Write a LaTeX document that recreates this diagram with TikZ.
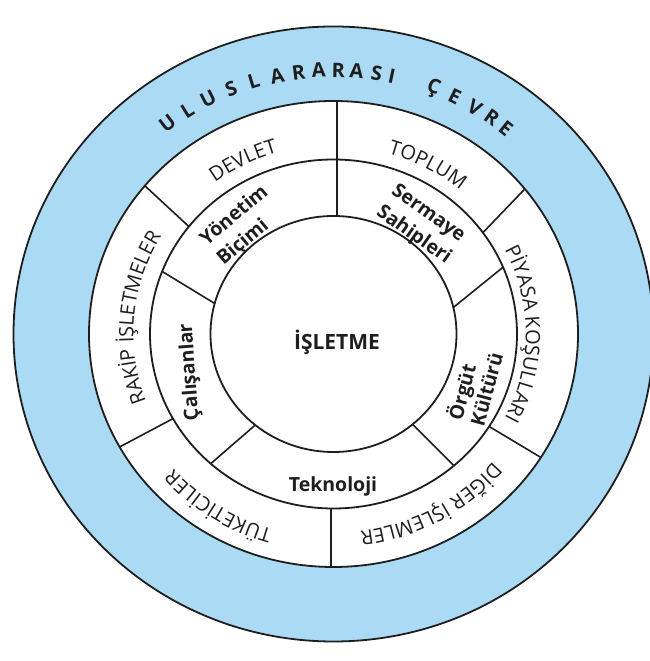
\documentclass[tikz,border=0pt]{standalone}
\usepackage{fontspec}
\setmainfont{Open Sans}
\usetikzlibrary{decorations.text}
\definecolor{ringblue}{RGB}{170,218,244}
\definecolor{ink}{RGB}{30,30,30}
\newcommand{\outerfont}{\fontsize{20}{20}\selectfont}
\begin{document}
\begin{tikzpicture}[
  rim/.style={draw=ink, line width=1.8pt},
  divider/.style={draw=ink, line width=1.6pt},
  ringtitle/.style={font=\bfseries\fontsize{20}{20}\selectfont, text=ink, inner sep=0pt},
  sector/.style={font=\bfseries\fontsize{19.5}{26}\selectfont, text=ink, inner sep=0pt, align=left},
  core/.style={font=\bfseries\fontsize{21}{21}\selectfont, text=ink, inner sep=0pt},
  arclabel/.style={decorate, decoration={text along path, text align=center, text color=ink}},
]
\useasboundingbox (0,0) rectangle (650pt,661pt);
\clip (0,0) rectangle (650pt,661pt);
\begin{scope}[shift={(333.5pt,327pt)}]
  % rings
  \path[fill=ringblue, rim] (0,0) ellipse [x radius=320pt, y radius=307.5pt];
  \path[fill=white, rim] (0,0) ellipse [x radius=244.5pt, y radius=233pt];
  \draw[rim] (0,0) ellipse [x radius=183.5pt, y radius=174.5pt];
  \draw[rim] (0,0) ellipse [x radius=123pt, y radius=118pt];

  % dividers of the inner ring
  \draw[divider] (3.2pt,118pt) -- (3.2pt,233pt);
  \draw[divider] (165:123pt and 118pt) -- (159:183.5pt and 174.5pt);
  \draw[divider] (13:123pt and 118pt) -- (22.5:183.5pt and 174.5pt);
  \draw[divider] (-50:123pt and 118pt) -- (-49:183.5pt and 174.5pt);
  \draw[divider] (230.5:123pt and 118pt) -- (228:183.5pt and 174.5pt);

  % dividers of the outer band
  \draw[divider] (35.5:183.5pt and 174.5pt) -- (38.5:244.5pt and 233pt);
  \draw[divider] (142:183.5pt and 174.5pt) -- (140.5:244.5pt and 233pt);
  \draw[divider] (-32:183.5pt and 174.5pt) -- (-32:244.5pt and 233pt);
  \draw[divider] (209:183.5pt and 174.5pt) -- (209:244.5pt and 233pt);
  \draw[divider] (-2.5pt,-174.5pt) -- (-2.5pt,-233pt);

  % title around the blue ring
  \foreach \ch/\ang [count=\i] in {U/127, L/122, U/117, S/111.8, L/106.8, A/101.8,
      R/97.3, A/93.1, R/89.0, A/85.2, S/81.0, I/77.8,
      Ç/68.8, E/63.9, V/59.2, R/55.0, E/51.3}
    \node[ringtitle, rotate=\ang-90] (title\i) at (\ang:275.9pt and 264pt) {\ch};

  % labels of the outer band
  \path[arclabel, decoration={text={|\outerfont|DEVLET}}]
    (157:197.5pt and 189pt) arc[start angle=157, end angle=77, x radius=197.5pt, y radius=189pt];
  \path[arclabel, decoration={text={|\outerfont|TOPLUM}}]
    (101.5:196.5pt and 188pt) arc[start angle=101.5, end angle=21.5, x radius=196.5pt, y radius=188pt];
  \path[arclabel, decoration={text={|\outerfont|PİYASA KOŞULLARI}}]
    (42:192.3pt and 184pt) arc[start angle=42, end angle=-42, x radius=192.3pt, y radius=184pt];
  \path[arclabel, decoration={text={|\outerfont|DİĞER İŞLEMLER}}]
    (-21:208pt and 199pt) arc[start angle=-21, end angle=-101, x radius=208pt, y radius=199pt];
  \path[arclabel, decoration={text={|\outerfont|TÜKETİCİLER}}]
    (-83:213.2pt and 204pt) arc[start angle=-83, end angle=-163, x radius=213.2pt, y radius=204pt];
  \path[arclabel, decoration={text={|\outerfont|RAKİP İŞLETMELER}}]
    (217:200.1pt and 191.5pt) arc[start angle=217, end angle=133, x radius=200.1pt, y radius=191.5pt];

  % labels of the inner ring
  \node[sector, rotate=40] (yonetim) at (-90.5pt,108pt) {Yönetim\\Biçimi};
  \node[sector, rotate=-35] (sermaye) at (87.5pt,109pt) {Sermaye\\Sahipleri};
  \node[sector, rotate=75, font=\bfseries\fontsize{19.5}{23}\selectfont] (orgut) at (140.5pt,-52pt) {Örgüt\\Kültürü};
  \node[sector, rotate=94] (calisan) at (-143.5pt,-38pt) {Çalışanlar};
  \node[sector] (tekno) at (-0.5pt,-152pt) {Teknoloji};

  % centre
  \node[core] (isletme) at (3.5pt,-8pt) {İŞLETME};
\end{scope}
\end{tikzpicture}
\end{document}
